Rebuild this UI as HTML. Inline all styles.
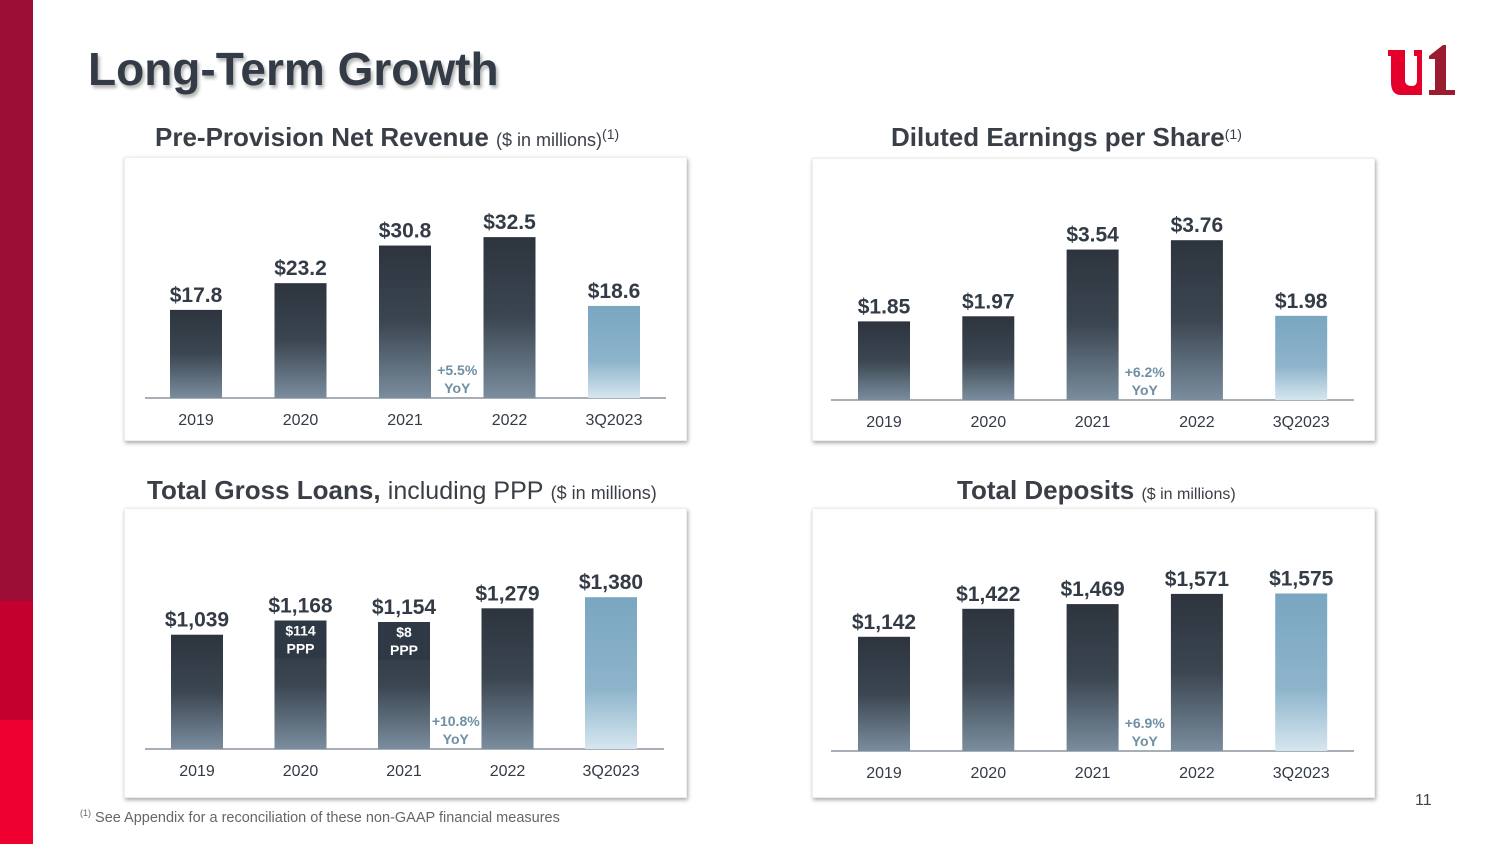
<!DOCTYPE html>
<html><head><meta charset="utf-8">
<style>
body{margin:0;width:1500px;height:844px;background:#fff;position:relative;overflow:hidden;font-family:"Liberation Sans",Arial,sans-serif;}
.abs{position:absolute;}
.panel{position:absolute;background:#fff;box-shadow:1px 2px 4px rgba(0,0,0,0.35);border:1px solid #eee;}
.ct{position:absolute;color:#3a3f47;font-weight:bold;font-size:26px;white-space:nowrap;text-align:center;}
.ct span{font-weight:normal;font-size:18px;}
.ct sup{font-size:14px;}
</style></head><body>
<div class="abs" style="left:0;top:0;width:33px;height:601px;background:#9b0d35"></div>
<div class="abs" style="left:0;top:601px;width:33px;height:119px;background:#c4002f"></div>
<div class="abs" style="left:0;top:720px;width:33px;height:124px;background:#ee0030"></div>
<div class="abs" style="left:88px;top:42px;font-size:46px;font-weight:bold;color:#333b46;text-shadow:2px 3px 3px rgba(0,0,0,0.3);">Long-Term Growth</div>
<svg class="abs" style="left:1385px;top:42px" width="75" height="56" viewBox="0 0 75 56">
<path d="M3 8 H20 V38 Q20 44 27 44 V53 H16 Q6 53 6 40 V14 H3Z" fill="#e4002b"/>
<path d="M27 44 Q32 44 32 38 V14 H29 V8 H37 V53 H27Z" fill="#e4002b"/>
<path d="M44 14 L58 3 H61 V48 H70 V53 H44 V48 H50 V17 H44Z" fill="#9b1b30"/>
</svg>

<div class="ct" style="left:155px;top:122px">Pre-Provision Net Revenue <span>($ in millions)<sup>(1)</sup></span></div>
<div class="ct" style="left:891px;top:122px">Diluted Earnings per Share<span><sup>(1)</sup></span></div>
<div class="ct" style="left:147px;top:475px">Total Gross Loans, <span style="font-size:25px">including PPP</span> <span>($ in millions)</span></div>
<div class="ct" style="left:957px;top:475px">Total Deposits <span style="font-size:16px">($ in millions)</span></div>

<div class="panel" style="left:124px;top:157px;width:561px;height:282px"></div>
<div class="panel" style="left:812px;top:158px;width:561px;height:281px"></div>
<div class="panel" style="left:124px;top:508px;width:561px;height:288px"></div>
<div class="panel" style="left:812px;top:508px;width:561px;height:288px"></div>

<svg class="abs" id="charts" style="left:0;top:0" width="1500" height="844">
<defs>
<linearGradient id="gd" x1="0" y1="0" x2="0" y2="1"><stop offset="0" stop-color="#2d343e"/><stop offset="0.5" stop-color="#3b4651"/><stop offset="1" stop-color="#7a8d9e"/></linearGradient>
<linearGradient id="gl" x1="0" y1="0" x2="0" y2="1"><stop offset="0" stop-color="#7aa6c1"/><stop offset="0.6" stop-color="#8db4cb"/><stop offset="1" stop-color="#d6e6ef"/></linearGradient>
</defs>
</svg>

<div class="abs" style="left:80px;top:808px;font-size:14.5px;color:#666"><sup style="font-size:9px">(1)</sup> See Appendix for a reconciliation of these non-GAAP financial measures</div>
<div class="abs" style="left:1415px;top:792px;font-size:16px;color:#444">11</div>

<script>
const years = ["2019","2020","2021","2022","3Q2023"];
const ppnrValues = [17.8,23.2,30.8,32.5,18.6];
const ppnrLabels = ["$17.8","$23.2","$30.8","$32.5","$18.6"];
const epsValues = [1.85,1.97,3.54,3.76,1.98];
const epsLabels = ["$1.85","$1.97","$3.54","$3.76","$1.98"];
const loanValues = [1039,1168,1154,1279,1380];
const loanLabels = ["$1,039","$1,168","$1,154","$1,279","$1,380"];
const pppLabels = ["","$114","$8","",""];
const depositValues = [1142,1422,1469,1571,1575];
const depositLabels = ["$1,142","$1,422","$1,469","$1,571","$1,575"];
const yoyLabels = ["+5.5%","+6.2%","+10.8%","+6.9%"];

const svg=document.getElementById('charts');
const NS="http://www.w3.org/2000/svg";
function mk(t,a){const e=document.createElementNS(NS,t);for(const k in a)e.setAttribute(k,a[k]);svg.appendChild(e);return e;}
function txt(x,y,s,size,fill,weight){const e=mk('text',{x:x,y:y,'text-anchor':'middle','font-size':size,fill:fill,'font-weight':weight||'normal','font-family':'Liberation Sans, Arial, sans-serif'});e.textContent=s;return e;}

function chart(cfg,vals,labels,yoy,ppp){
  const xs=i=>cfg.x0+i*cfg.step;
  const ys=v=>cfg.base-v*cfg.k;
  const ax=mk('line',{x1:cfg.ax0,x2:cfg.ax1,y1:cfg.base,y2:cfg.base,stroke:'#8a949e','stroke-width':1.5});
  
  
  vals.forEach((v,i)=>{
    const top=ys(v);
    const r=mk('rect',{x:xs(i)-26,y:top,width:52,height:cfg.base-top,fill:i===4?'url(#gl)':'url(#gd)'});
    
    
    if(ppp&&ppp[i]){
      const b=mk('rect',{x:xs(i)-26,y:top,width:52,height:38,fill:'#2f3946'});
      
      
      const t1=txt(xs(i),top+15,ppp[i],14,'#fff','bold');
      
      
      const t2=txt(xs(i),top+33,'PPP',14,'#fff','bold');
      
      
    }
    const l=txt(xs(i),top-8,labels[i],21,'#333b46','bold');
    
    
    const y=txt(xs(i),cfg.base+27,years[i],16,'#333b46');
    
    
  });
  const yx=(xs(2)+xs(3))/2;
  const a=txt(yx,cfg.base-23,yoy,14,'#6f8fa3','bold');
  
  
  const b=txt(yx,cfg.base-5,'YoY',14,'#6f8fa3','bold');
  
  
}
chart({name:'ppnr',x0:196,step:104.5,base:398,k:4.95,ax0:145,ax1:666},ppnrValues,ppnrLabels,yoyLabels[0]);
chart({name:'eps',x0:884,step:104.3,base:400,k:42.5,ax0:831,ax1:1354},epsValues,epsLabels,yoyLabels[1]);
chart({name:'loans',x0:197,step:103.5,base:749,k:0.11,ax0:145,ax1:664},loanValues,loanLabels,yoyLabels[2],pppLabels);
chart({name:'deposits',x0:884,step:104.3,base:751,k:0.1,ax0:831,ax1:1354},depositValues,depositLabels,yoyLabels[3]);
</script>
</body></html>
